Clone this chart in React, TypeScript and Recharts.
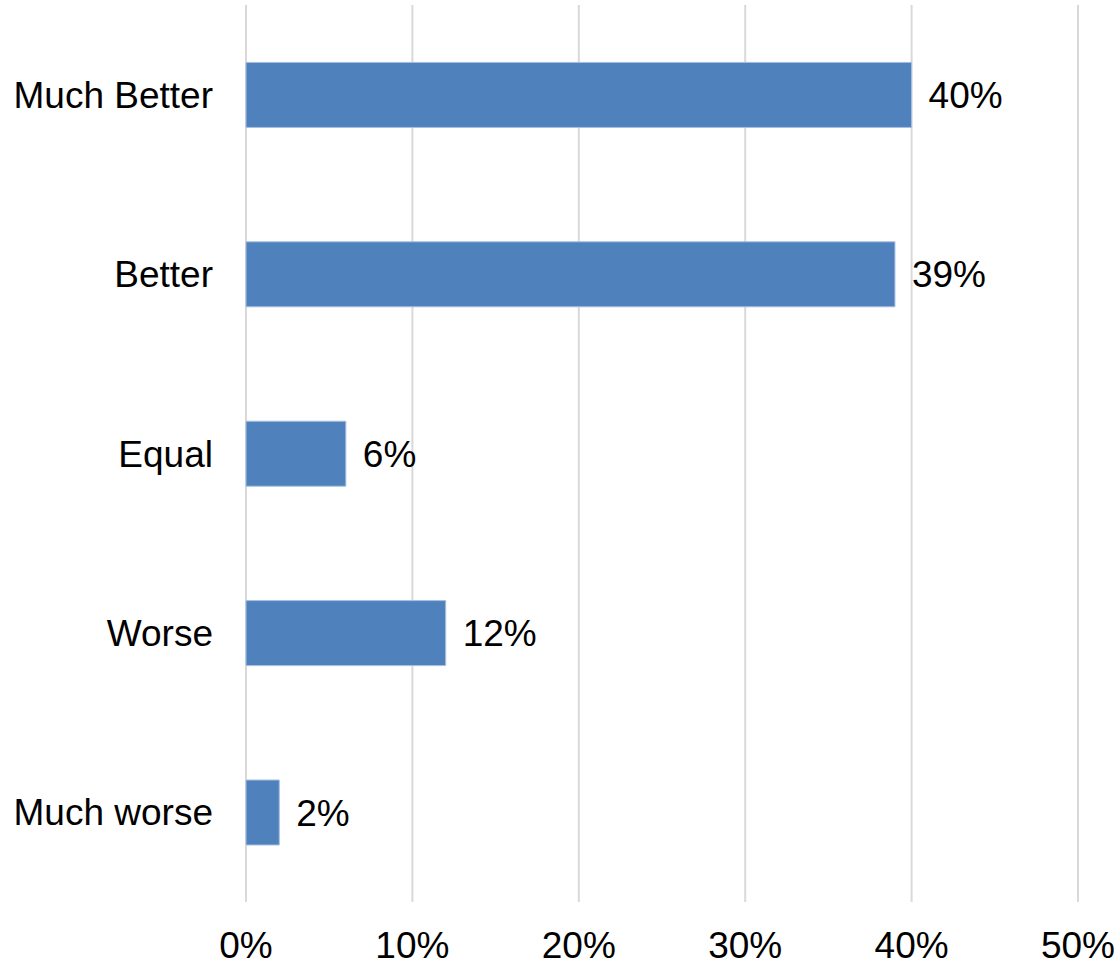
import { BarChart, Bar, XAxis, YAxis, CartesianGrid, LabelList } from 'recharts';

const categories = ['Much Better', 'Better', 'Equal', 'Worse', 'Much worse'];
const shares = [40, 39, 6, 12, 2];
const xTicks = [0, 10, 20, 30, 40, 50];

const data = categories.map((name, i) => ({ name, value: shares[i] }));

const font = '"Liberation Sans", Arial, sans-serif';
const pct = (v: number) => `${v}%`;

export default function App() {
  return (
    <div style={{ position: 'absolute', left: 0, top: 0, background: '#fff' }}>
      <BarChart
        width={1120}
        height={965}
        data={data}
        layout="vertical"
        barCategoryGap="32%"
        margin={{ top: 5, right: 42, bottom: 0, left: 0 }}
      >
        <CartesianGrid horizontal={false} stroke="#d9d9d9" strokeWidth={2} />
        <XAxis
          type="number"
          domain={[0, 50]}
          ticks={xTicks}
          tickFormatter={pct}
          axisLine={false}
          tickLine={false}
          tickSize={0}
          tickMargin={30}
          height={63}
          interval={0}
          tick={{ fill: '#000', fontSize: 37, fontFamily: font }}
        />
        <YAxis
          type="category"
          dataKey="name"
          width={246}
          axisLine={false}
          tickLine={false}
          tickSize={0}
          tickMargin={33}
          interval={0}
          tick={{ fill: '#000', fontSize: 37, fontFamily: font }}
        />
        <Bar dataKey="value" fill="#4f81bd" stroke="#a7bfe0" strokeWidth={1} isAnimationActive={false}>
          <LabelList
            dataKey="value"
            position="right"
            offset={17}
            formatter={(v: any) => pct(v)}
            style={{ fill: '#000', fontSize: 37, fontFamily: font }}
          />
        </Bar>
      </BarChart>
    </div>
  );
}
